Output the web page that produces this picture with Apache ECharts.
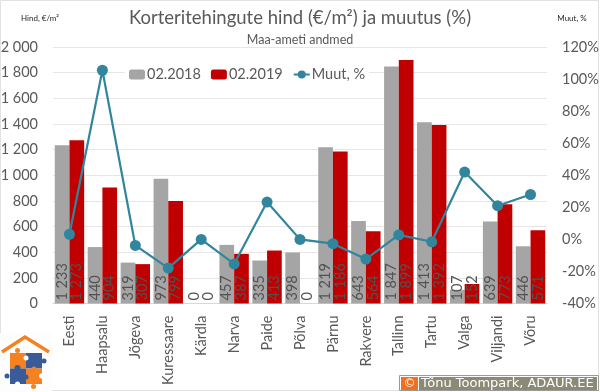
<!DOCTYPE html>
<html><head><meta charset="utf-8">
<style>html,body{margin:0;padding:0;background:#fff}#c{width:600px;height:392px}</style>
<script src="https://cdn.jsdelivr.net/npm/echarts@6/dist/echarts.min.js"></script>
</head><body><div id="c"></div>
<script>
const categories = ['Eesti','Haapsalu','Jõgeva','Kuressaare','Kärdla','Narva','Paide','Põlva','Pärnu','Rakvere','Tallinn','Tartu','Valga','Viljandi','Võru'];
const price2018 = [1233,440,319,973,0,457,335,398,1219,643,1847,1413,107,639,446];
const price2019 = [1273,904,307,799,0,387,413,0,1186,564,1899,1392,152,773,571];
const changePct = [3.2,105.5,-3.8,-17.9,0,-15.3,23.3,0,-2.7,-12.3,2.8,-1.5,42,21,28];
const FONT = 'Lato';
const fmtSpace = v => String(v).replace(/\B(?=(\d{3})+$)/g,' ');
const barLabel = {show:true,position:'insideBottom',rotate:90,align:'left',verticalAlign:'middle',distance:3,
  fontFamily:FONT,fontSize:14.5,color:'#525252',formatter:p=>fmtSpace(p.value)};
const chart = echarts.init(document.getElementById('c'),null,{renderer:'canvas'});
const orange='#F58220', blue='#3A5A98';
chart.setOption({
  animation:false,
  backgroundColor:'#fff',
  textStyle:{fontFamily:FONT},
  title:[
    {text:'Korteritehingute hind (€/m²) ja muutus (%)',left:'center',top:7,padding:[2,4,6,4],backgroundColor:'#fff',
     textStyle:{fontFamily:FONT,fontSize:18.5,fontWeight:'normal',color:'#595959'}},
    {text:'Maa-ameti andmed',left:'center',top:33,padding:[0,4,2,4],
     textStyle:{fontFamily:FONT,fontSize:12.5,fontWeight:'normal',color:'#595959'}}
  ],
  legend:{left:125,top:65,padding:[2,4,2,4],backgroundColor:'#fff',itemWidth:16,itemHeight:10,itemGap:10,
    data:['02.2018','02.2019','Muut, %'],
    textStyle:{fontFamily:FONT,fontSize:14.5,color:'#595959',padding:[0,0,0,-3]}},
  grid:{left:53,right:53,top:47,bottom:88.5,outerBoundsMode:'none'},
  xAxis:{type:'category',data:categories,
    axisTick:{show:false},axisLine:{lineStyle:{color:'#D9D9D9'}},
    axisLabel:{rotate:90,interval:0,margin:12,fontFamily:FONT,fontSize:14.5,color:'#595959'}},
  yAxis:[
    {type:'value',min:0,max:2000,interval:200,
     name:'Hind, €/m²',nameLocation:'end',nameGap:25,
     nameTextStyle:{fontFamily:FONT,fontSize:8,color:'#262626',align:'center',padding:[0,0,0,-26]},
     axisLine:{show:false},axisTick:{show:false},
     splitLine:{lineStyle:{color:'#E6E6E6'}},
     axisLabel:{margin:15,fontFamily:FONT,fontSize:14.5,color:'#595959',formatter:fmtSpace}},
    {type:'value',min:-40,max:120,interval:20,
     name:'Muut, %',nameLocation:'end',nameGap:25,
     nameTextStyle:{fontFamily:FONT,fontSize:8,color:'#262626',align:'center',padding:[0,0,0,50]},
     axisLine:{show:false},axisTick:{show:false},splitLine:{show:false},
     axisLabel:{margin:15,fontFamily:FONT,fontSize:14.5,color:'#595959',formatter:v=>v+'%'}}
  ],
  series:[
    {name:'02.2018',type:'bar',data:price2018,barWidth:14.7,barGap:'0%',itemStyle:{color:'#A5A5A5'},label:barLabel},
    {name:'02.2019',type:'bar',data:price2019,barWidth:14.7,itemStyle:{color:'#C00000'},label:barLabel},
    {name:'Muut, %',type:'line',yAxisIndex:1,data:changePct,symbol:'circle',symbolSize:11,
     lineStyle:{color:'#31859C',width:2.2},itemStyle:{color:'#31859C'},z:5}
  ],
  graphic:[
    {type:'rect',shape:{x:0.5,y:0.5,width:598,height:390},style:{fill:null,stroke:'#E2E2E2',lineWidth:1},silent:true},
    {type:'rect',shape:{x:0,y:333,width:52,height:59},style:{fill:'#FDFDFD'},silent:true},
    {type:'polyline',shape:{points:[[2,352],[25,337],[49,352]]},style:{stroke:orange,lineWidth:3.5,fill:null}},
    {type:'rect',shape:{x:10,y:353,width:16,height:15.5},style:{fill:orange}},
    {type:'rect',shape:{x:26,y:353,width:16,height:15.5},style:{fill:blue}},
    {type:'rect',shape:{x:10,y:368.5,width:16,height:15.5},style:{fill:blue}},
    {type:'rect',shape:{x:26,y:368.5,width:16,height:15.5},style:{fill:orange}},
    {type:'circle',shape:{cx:17.5,cy:350.5,r:2.5},style:{fill:orange}},
    {type:'circle',shape:{cx:44,cy:361,r:2.5},style:{fill:blue}},
    {type:'circle',shape:{cx:7,cy:376,r:2.5},style:{fill:blue}},
    {type:'circle',shape:{cx:33.5,cy:386.5,r:2.5},style:{fill:orange}},
    {type:'circle',shape:{cx:26,cy:358,r:2.5},style:{fill:'#fff'}},
    {type:'circle',shape:{cx:26,cy:377,r:2.5},style:{fill:blue}},
    {type:'circle',shape:{cx:17.5,cy:368,r:3},style:{fill:blue}},
    {type:'circle',shape:{cx:34,cy:369,r:2.5},style:{fill:orange}},
    {type:'circle',shape:{cx:17.5,cy:384,r:2.5},style:{fill:'#fff'}},
    {type:'circle',shape:{cx:41.5,cy:376,r:2.5},style:{fill:'#fff'}},
    {type:'rect',shape:{x:399.5,y:375.5,width:199,height:15},style:{fill:'#fff',stroke:'#9A9A9A',lineWidth:1}},
    {type:'rect',shape:{x:401,y:377,width:17,height:13},style:{fill:'#F0701E'}},
    {type:'rect',shape:{x:419,y:377,width:178,height:13},style:{fill:'#8A8A75'}},
    {type:'text',style:{x:409.5,y:383.5,text:'©',align:'center',verticalAlign:'middle',fill:'#fff',fontFamily:'DejaVu Sans',fontSize:12}},
    {type:'text',style:{x:421,y:383.5,text:'Tõnu Toompark, ADAUR.EE',verticalAlign:'middle',fill:'#fff',fontFamily:'DejaVu Sans',fontSize:13}}
  ]
});
</script></body></html>
